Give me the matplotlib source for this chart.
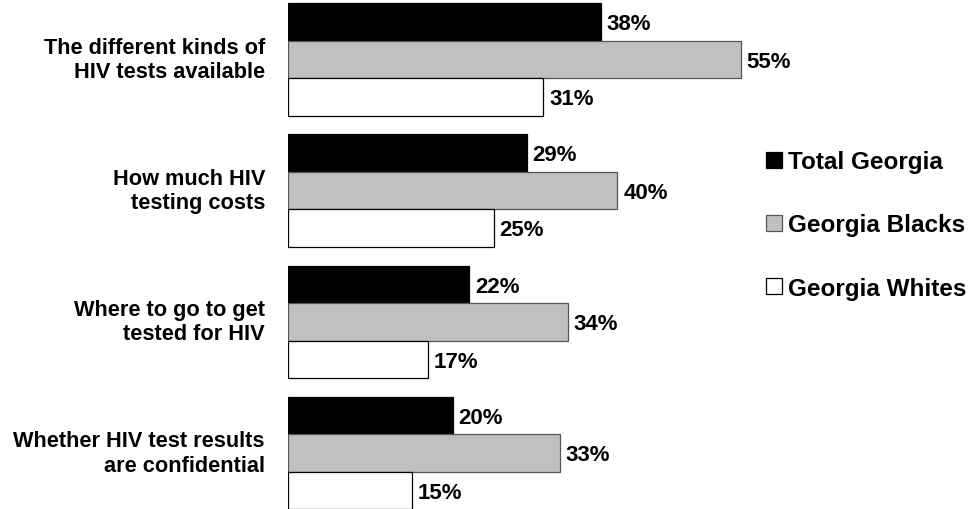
import numpy as np
import matplotlib.pyplot as plt
from matplotlib.patches import Patch

plt.rcParams['font.family'] = ['Liberation Sans', 'DejaVu Sans']

categories = ['The different kinds of\nHIV tests available',
              'How much HIV\ntesting costs',
              'Where to go to get\ntested for HIV',
              'Whether HIV test results\nare confidential']
series = ['Total Georgia', 'Georgia Blacks', 'Georgia Whites']
total_ga = [38, 29, 22, 20]
blacks_ga = [55, 40, 34, 33]
whites_ga = [31, 25, 17, 15]
colors = ['#000000', '#c0c0c0', '#ffffff']
edges = ['#000000', '#555555', '#000000']

fig = plt.figure(figsize=(9.71, 5.10), dpi=100)
ax = fig.add_axes([288 / 971, 0, 1 - 288 / 971, 1])

pitch = 3.5
values = [total_ga, blacks_ga, whites_ga]
for s, vals in enumerate(values):
    y = np.arange(len(categories)) * pitch + s + 0.5
    ax.barh(y, vals, height=1.0, color=colors[s], edgecolor=edges[s], linewidth=0.9)
    for yy, v in zip(y, vals):
        ax.text(v + 0.7, yy + 0.05, f'{v}%', va='center', ha='left',
                fontsize=16, fontweight='bold')

for g, cat in enumerate(categories):
    ax.text(-2.8, g * pitch + 1.5, cat, ha='right', va='center',
            fontsize=15.7, fontweight='bold', linespacing=1.2)

ax.set_xlim(0, (971 - 288) / 8.236)
ax.set_ylim((510 - 4) / 37.5, -4 / 37.5)
ax.axis('off')

handles = [Patch(facecolor=colors[i], edgecolor=edges[i], linewidth=0.9) for i in range(3)]
fig.legend(handles, series, loc='center left', bbox_to_anchor=(766 / 971, 1 - 226 / 510),
           frameon=False, prop={'size': 17.5, 'weight': 'bold'},
           handlelength=0.66, handleheight=0.66, handletextpad=0.25,
           labelspacing=1.65, borderpad=0, borderaxespad=0)

fig.savefig('out.png', dpi=100)
